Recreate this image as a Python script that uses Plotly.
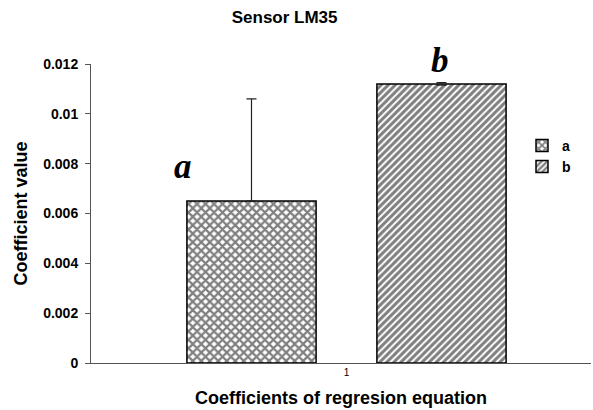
import plotly.graph_objects as go

categories = ["1"]
series_names = ["a", "b"]
values_a = [0.0065]
values_b = [0.0112]
err_plus_a = [0.0041]
err_minus_a = [0.0]
err_b = [0.00005]
y_ticks = [0, 0.002, 0.004, 0.006, 0.008, 0.01, 0.012]
y_ticklabels = ["0", "0.002", "0.004", "0.006", "0.008", "0.01", "0.012"]

FONT = "Arial, Liberation Sans, sans-serif"
SERIF = "Times New Roman, Liberation Serif, serif"

fig = go.Figure()
fig.add_trace(go.Bar(
    x=categories, y=values_a, name=series_names[0],
    marker=dict(color="white", line=dict(color="black", width=1.5),
                pattern=dict(shape="x", size=6, solidity=0.6,
                             fgcolor="black", bgcolor="white")),
    error_y=dict(type="data", array=err_plus_a, arrayminus=err_minus_a,
                 color="#222", thickness=1.2, width=5),
))
fig.add_trace(go.Bar(
    x=categories, y=values_b, name=series_names[1],
    marker=dict(color="white", line=dict(color="black", width=1.5),
                pattern=dict(shape="/", size=5, solidity=0.6,
                             fgcolor="black", bgcolor="white")),
    error_y=dict(type="data", array=err_b, color="#222", thickness=1.2, width=5),
))

fig.update_layout(
    width=593, height=410,
    margin=dict(l=91, r=2, t=64, b=47),
    paper_bgcolor="white", plot_bgcolor="white",
    barmode="group", bargap=0.24, bargroupgap=0.32,
    font=dict(family=FONT, color="black", size=12, weight="bold"),
    title=dict(text="Sensor LM35", x=0.48, xanchor="center", y=0.958, yanchor="middle",
               font=dict(family=FONT, size=17, weight="bold")),
    xaxis=dict(range=[-0.511, 0.489], showline=True, linecolor="#555", linewidth=1,
               ticks="", tickfont=dict(size=10, weight="normal", color="black"),
               title=dict(text="Coefficients of regresion equation", standoff=14,
                          font=dict(size=18, weight="bold"))),
    yaxis=dict(range=[0, 0.012], tickvals=y_ticks, ticktext=y_ticklabels,
               showline=True, linecolor="#555", linewidth=1, showgrid=False,
               zeroline=False, ticks="outside", ticklen=5, tickcolor="#555",
               ticklabelstandoff=4,
               tickfont=dict(size=14, weight="bold"),
               title=dict(text="Coefficient value", standoff=10,
                          font=dict(size=18, weight="bold"))),
    legend=dict(x=0.862, y=0.78, xanchor="left", yanchor="top",
                bgcolor="rgba(0,0,0,0)", itemwidth=30, tracegroupgap=4,
                font=dict(size=14, weight="bold")),
    annotations=[
        dict(text="<b><i>a</i></b>", x=0.184, y=0.0079, xref="paper", yref="y",
             xanchor="center", yanchor="middle",
             showarrow=False, font=dict(family=SERIF, size=35)),
        dict(text="<b><i>b</i></b>", x=0.698, y=1.013, xref="paper", yref="paper",
             xanchor="center", yanchor="middle",
             showarrow=False, font=dict(family=SERIF, size=35)),
    ],
)

fig.write_html("out.html", config={"displayModeBar": False},
               post_script="document.body.style.margin='0';")
